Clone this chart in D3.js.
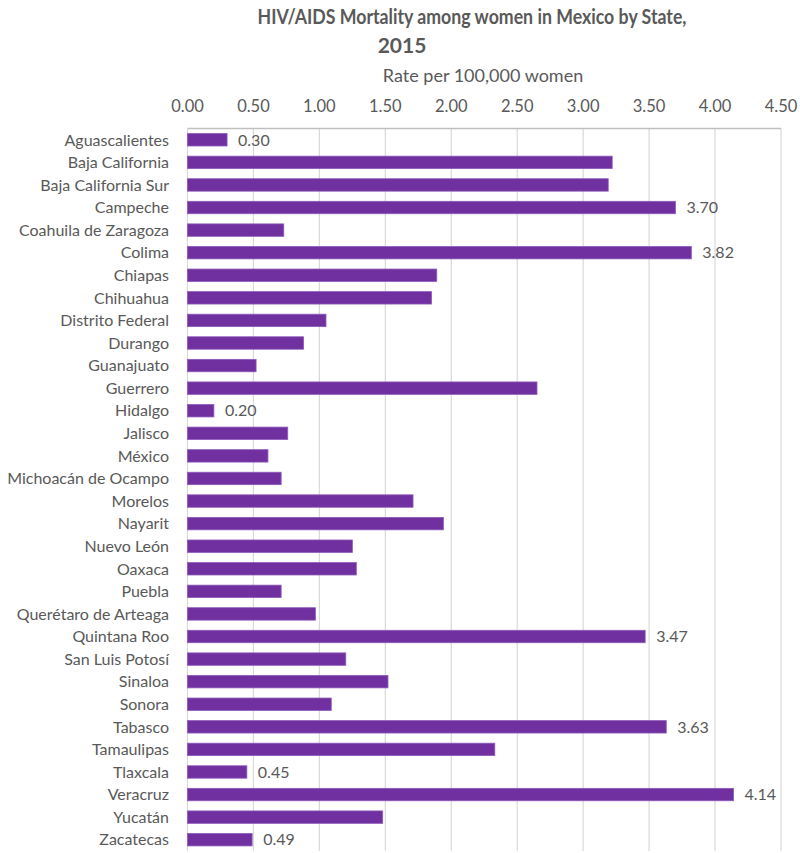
<!DOCTYPE html>
<html>
<head>
    <meta charset="UTF-8">
    <title>HIV/AIDS Mortality among women in Mexico by State, 2015</title>
    <script src="https://d3js.org/d3.v7.min.js"></script>
    <style>
        body { margin: 0; background: #fff; }
        text { font-family: Lato, "Open Sans", sans-serif; fill: #595959; }
        .title { font-size: 21px; font-weight: bold; text-anchor: middle; }
        .axis-title { font-size: 18px; text-anchor: middle; }
        .tick-label { font-size: 16.5px; text-anchor: middle; }
        .cat-label { font-size: 16px; text-anchor: end; }
        .bar-label { font-size: 16px; }
        .grid { stroke: #d9d9d9; stroke-width: 1.2px; }
        .bar { fill: #7030A0; stroke: #8c5abb; stroke-width: 0.8px; }
    </style>
</head>
<body>
<script>
    const states = ["Aguascalientes", "Baja California", "Baja California Sur", "Campeche",
        "Coahuila de Zaragoza", "Colima", "Chiapas", "Chihuahua", "Distrito Federal", "Durango",
        "Guanajuato", "Guerrero", "Hidalgo", "Jalisco", "México", "Michoacán de Ocampo",
        "Morelos", "Nayarit", "Nuevo León", "Oaxaca", "Puebla", "Querétaro de Arteaga",
        "Quintana Roo", "San Luis Potosí", "Sinaloa", "Sonora", "Tabasco", "Tamaulipas",
        "Tlaxcala", "Veracruz", "Yucatán", "Zacatecas"];
    const rates = [0.30, 3.22, 3.19, 3.70,
        0.73, 3.82, 1.89, 1.85, 1.05, 0.88,
        0.52, 2.65, 0.20, 0.76, 0.61, 0.71,
        1.71, 1.94, 1.25, 1.28, 0.71, 0.97,
        3.47, 1.20, 1.52, 1.09, 3.63, 2.33,
        0.45, 4.14, 1.48, 0.49];
    const labelled = ["Aguascalientes", "Campeche", "Colima", "Hidalgo", "Quintana Roo",
        "Tabasco", "Tlaxcala", "Veracruz", "Zacatecas"];
    const ticks = [0, 0.5, 1, 1.5, 2, 2.5, 3, 3.5, 4, 4.5];

    const width = 800;
    const height = 853;
    const marginTop = 128.5;
    const marginRight = 19;
    const marginBottom = 2;
    const marginLeft = 187.5;

    const data = states.map((s, i) => ({ name: s, value: rates[i] }));

    const svg = d3.select('body')
        .append('svg')
        .attr('width', width)
        .attr('height', height);

    const x = d3.scaleLinear()
        .domain([0, 4.5])
        .range([marginLeft, width - marginRight]);

    const y = d3.scaleBand()
        .domain(states)
        .range([marginTop, height - marginBottom])
        .paddingInner(0.45)
        .paddingOuter(0.225);

    // title (Calibri-like width, squeezed)
    svg.append('text').attr('class', 'title')
        .attr('x', 472).attr('y', 24)
        .attr('textLength', 429)
        .attr('lengthAdjust', 'spacingAndGlyphs')
        .text('HIV/AIDS Mortality among women in Mexico by State,');
    svg.append('text').attr('class', 'title')
        .attr('x', 402).attr('y', 53)
        .text('2015');

    svg.append('text').attr('class', 'axis-title')
        .attr('x', 483).attr('y', 82)
        .text('Rate per 100,000 women');

    // gridlines
    svg.selectAll('.grid')
        .data(ticks)
        .enter()
        .append('line')
        .attr('class', 'grid')
        .attr('x1', d => x(d)).attr('x2', d => x(d))
        .attr('y1', marginTop).attr('y2', height - marginBottom);

    // top axis line
    svg.append('line')
        .attr('x1', x(0)).attr('x2', x(4.5))
        .attr('y1', marginTop).attr('y2', marginTop)
        .attr('stroke', '#bfbfbf').attr('stroke-width', 1.5);

    svg.selectAll('.tick-label')
        .data(ticks)
        .enter()
        .append('text')
        .attr('class', 'tick-label')
        .attr('x', d => x(d))
        .attr('y', 111.5)
        .text(d => d.toFixed(2));

    // bars
    svg.selectAll('.bar')
        .data(data)
        .enter()
        .append('rect')
        .attr('class', 'bar')
        .attr('x', x(0))
        .attr('y', d => y(d.name))
        .attr('width', d => x(d.value) - x(0))
        .attr('height', y.bandwidth());

    svg.selectAll('.cat-label')
        .data(data)
        .enter()
        .append('text')
        .attr('class', 'cat-label')
        .attr('x', 169)
        .attr('y', d => y(d.name) + y.bandwidth() / 2)
        .attr('dy', '0.36em')
        .text(d => d.name);

    svg.selectAll('.bar-label')
        .data(data.filter(d => labelled.includes(d.name)))
        .enter()
        .append('text')
        .attr('class', 'bar-label')
        .attr('x', d => x(d.value) + 11)
        .attr('y', d => y(d.name) + y.bandwidth() / 2)
        .attr('dy', '0.36em')
        .text(d => d.value.toFixed(2));
</script>
</body>
</html>
